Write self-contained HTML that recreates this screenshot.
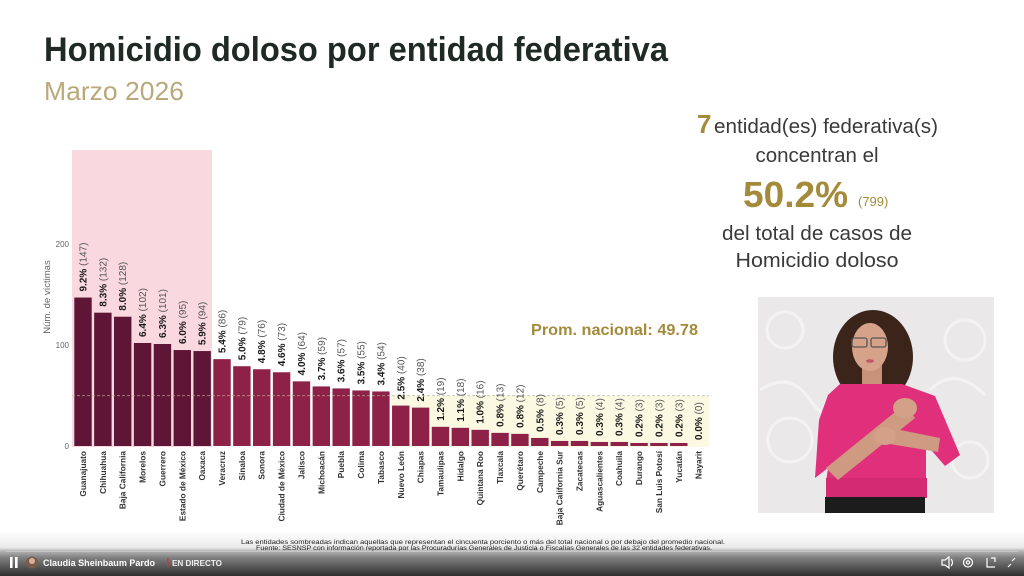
<!DOCTYPE html>
<html>
<head>
<meta charset="utf-8">
<style>
html,body{margin:0;padding:0;background:#fff;}
svg{display:block;}
</style>
</head>
<body>
<svg width="1024" height="576" viewBox="0 0 1024 576" xmlns="http://www.w3.org/2000/svg" font-family="'Liberation Sans', sans-serif">
<defs>
<linearGradient id="bb" x1="0" y1="530" x2="0" y2="576" gradientUnits="userSpaceOnUse">
<stop offset="0" stop-color="#000" stop-opacity="0"/>
<stop offset="0.38" stop-color="#000" stop-opacity="0.08"/>
<stop offset="0.46" stop-color="#000" stop-opacity="0.3"/>
<stop offset="0.6" stop-color="#000" stop-opacity="0.5"/>
<stop offset="1" stop-color="#000" stop-opacity="0.82"/>
</linearGradient>
</defs>
<rect width="1024" height="576" fill="#ffffff"/>

<!-- Title -->
<text x="44" y="61" font-size="34" font-weight="bold" fill="#1f2a24" textLength="624" lengthAdjust="spacingAndGlyphs">Homicidio doloso por entidad federativa</text>
<text x="44" y="100" font-size="26" fill="#b8a87a" textLength="140" lengthAdjust="spacingAndGlyphs">Marzo 2026</text>

<!-- Shaded regions -->
<rect x="72" y="150" width="140" height="297" fill="#f9d8df"/>
<rect x="391" y="395.7" width="318" height="51.3" fill="#fcf9e3"/>

<!-- Y axis -->
<g font-size="8" fill="#666" text-anchor="end">
<text x="69" y="247">200</text>
<text x="69" y="348">100</text>
<text x="69" y="449">0</text>
</g>
<text transform="translate(50,297) rotate(-90)" font-size="9.5" fill="#666" text-anchor="middle">Núm. de víctimas</text>

<!-- Bars -->
<g fill="#5e1536">
<rect x="74.30" y="297.53" width="17.4" height="148.47"/>
<rect x="94.16" y="312.68" width="17.4" height="133.32"/>
<rect x="114.02" y="316.72" width="17.4" height="129.28"/>
<rect x="133.88" y="342.98" width="17.4" height="103.02"/>
<rect x="153.74" y="343.99" width="17.4" height="102.01"/>
<rect x="173.60" y="350.05" width="17.4" height="95.95"/>
<rect x="193.46" y="351.06" width="17.4" height="94.94"/>
</g>
<g fill="#8d2148">
<rect x="213.32" y="359.14" width="17.4" height="86.86"/>
<rect x="233.18" y="366.21" width="17.4" height="79.79"/>
<rect x="253.04" y="369.24" width="17.4" height="76.76"/>
<rect x="272.90" y="372.27" width="17.4" height="73.73"/>
<rect x="292.76" y="381.36" width="17.4" height="64.64"/>
<rect x="312.62" y="386.41" width="17.4" height="59.59"/>
<rect x="332.48" y="388.43" width="17.4" height="57.57"/>
<rect x="352.34" y="390.45" width="17.4" height="55.55"/>
<rect x="372.20" y="391.46" width="17.4" height="54.54"/>
<rect x="392.06" y="405.60" width="17.4" height="40.40"/>
<rect x="411.92" y="407.62" width="17.4" height="38.38"/>
<rect x="431.78" y="426.81" width="17.4" height="19.19"/>
<rect x="451.64" y="427.82" width="17.4" height="18.18"/>
<rect x="471.50" y="429.84" width="17.4" height="16.16"/>
<rect x="491.36" y="432.87" width="17.4" height="13.13"/>
<rect x="511.22" y="433.88" width="17.4" height="12.12"/>
<rect x="531.08" y="437.92" width="17.4" height="8.08"/>
<rect x="550.94" y="440.95" width="17.4" height="5.05"/>
<rect x="570.80" y="440.95" width="17.4" height="5.05"/>
<rect x="590.66" y="441.96" width="17.4" height="4.04"/>
<rect x="610.52" y="441.96" width="17.4" height="4.04"/>
<rect x="630.38" y="442.97" width="17.4" height="3.03"/>
<rect x="650.24" y="442.97" width="17.4" height="3.03"/>
<rect x="670.10" y="442.97" width="17.4" height="3.03"/>
</g>

<!-- Average line -->
<line x1="72" y1="395.7" x2="709" y2="395.7" stroke="#b9b29a" stroke-width="0.9" stroke-dasharray="3,2" opacity="0.8"/>
<text x="531" y="335" font-size="16" font-weight="bold" fill="#a38b3b" textLength="167" lengthAdjust="spacingAndGlyphs">Prom. nacional: 49.78</text>

<!-- Value labels -->
<g font-size="10" font-weight="bold" fill="#1a1a1a">
<text transform="translate(86.5,291.5) rotate(-90)">9.2%<tspan font-weight="normal" fill="#555"> (147)</tspan></text>
<text transform="translate(106.4,306.7) rotate(-90)">8.3%<tspan font-weight="normal" fill="#555"> (132)</tspan></text>
<text transform="translate(126.2,310.7) rotate(-90)">8.0%<tspan font-weight="normal" fill="#555"> (128)</tspan></text>
<text transform="translate(146.1,337.0) rotate(-90)">6.4%<tspan font-weight="normal" fill="#555"> (102)</tspan></text>
<text transform="translate(165.9,338.0) rotate(-90)">6.3%<tspan font-weight="normal" fill="#555"> (101)</tspan></text>
<text transform="translate(185.8,344.0) rotate(-90)">6.0%<tspan font-weight="normal" fill="#555"> (95)</tspan></text>
<text transform="translate(205.7,345.1) rotate(-90)">5.9%<tspan font-weight="normal" fill="#555"> (94)</tspan></text>
<text transform="translate(225.5,353.1) rotate(-90)">5.4%<tspan font-weight="normal" fill="#555"> (86)</tspan></text>
<text transform="translate(245.4,360.2) rotate(-90)">5.0%<tspan font-weight="normal" fill="#555"> (79)</tspan></text>
<text transform="translate(265.2,363.2) rotate(-90)">4.8%<tspan font-weight="normal" fill="#555"> (76)</tspan></text>
<text transform="translate(285.1,366.3) rotate(-90)">4.6%<tspan font-weight="normal" fill="#555"> (73)</tspan></text>
<text transform="translate(305.0,375.4) rotate(-90)">4.0%<tspan font-weight="normal" fill="#555"> (64)</tspan></text>
<text transform="translate(324.8,380.4) rotate(-90)">3.7%<tspan font-weight="normal" fill="#555"> (59)</tspan></text>
<text transform="translate(344.7,382.4) rotate(-90)">3.6%<tspan font-weight="normal" fill="#555"> (57)</tspan></text>
<text transform="translate(364.5,384.5) rotate(-90)">3.5%<tspan font-weight="normal" fill="#555"> (55)</tspan></text>
<text transform="translate(384.4,385.5) rotate(-90)">3.4%<tspan font-weight="normal" fill="#555"> (54)</tspan></text>
<text transform="translate(404.3,399.6) rotate(-90)">2.5%<tspan font-weight="normal" fill="#555"> (40)</tspan></text>
<text transform="translate(424.1,401.6) rotate(-90)">2.4%<tspan font-weight="normal" fill="#555"> (38)</tspan></text>
<text transform="translate(444.0,420.8) rotate(-90)">1.2%<tspan font-weight="normal" fill="#555"> (19)</tspan></text>
<text transform="translate(463.8,421.8) rotate(-90)">1.1%<tspan font-weight="normal" fill="#555"> (18)</tspan></text>
<text transform="translate(483.7,423.8) rotate(-90)">1.0%<tspan font-weight="normal" fill="#555"> (16)</tspan></text>
<text transform="translate(503.6,426.9) rotate(-90)">0.8%<tspan font-weight="normal" fill="#555"> (13)</tspan></text>
<text transform="translate(523.4,427.9) rotate(-90)">0.8%<tspan font-weight="normal" fill="#555"> (12)</tspan></text>
<text transform="translate(543.3,431.9) rotate(-90)">0.5%<tspan font-weight="normal" fill="#555"> (8)</tspan></text>
<text transform="translate(563.1,435.0) rotate(-90)">0.3%<tspan font-weight="normal" fill="#555"> (5)</tspan></text>
<text transform="translate(583.0,435.0) rotate(-90)">0.3%<tspan font-weight="normal" fill="#555"> (5)</tspan></text>
<text transform="translate(602.9,436.0) rotate(-90)">0.3%<tspan font-weight="normal" fill="#555"> (4)</tspan></text>
<text transform="translate(622.7,436.0) rotate(-90)">0.3%<tspan font-weight="normal" fill="#555"> (4)</tspan></text>
<text transform="translate(642.6,437.0) rotate(-90)">0.2%<tspan font-weight="normal" fill="#555"> (3)</tspan></text>
<text transform="translate(662.4,437.0) rotate(-90)">0.2%<tspan font-weight="normal" fill="#555"> (3)</tspan></text>
<text transform="translate(682.3,437.0) rotate(-90)">0.2%<tspan font-weight="normal" fill="#555"> (3)</tspan></text>
<text transform="translate(702.2,440.0) rotate(-90)">0.0%<tspan font-weight="normal" fill="#555"> (0)</tspan></text>
</g>

<!-- Category labels -->
<g font-size="8.3" font-weight="bold" fill="#333" text-anchor="end">
<text transform="translate(86.0,451) rotate(-90)">Guanajuato</text>
<text transform="translate(105.9,451) rotate(-90)">Chihuahua</text>
<text transform="translate(125.7,451) rotate(-90)">Baja California</text>
<text transform="translate(145.6,451) rotate(-90)">Morelos</text>
<text transform="translate(165.4,451) rotate(-90)">Guerrero</text>
<text transform="translate(185.3,451) rotate(-90)">Estado de México</text>
<text transform="translate(205.2,451) rotate(-90)">Oaxaca</text>
<text transform="translate(225.0,451) rotate(-90)">Veracruz</text>
<text transform="translate(244.9,451) rotate(-90)">Sinaloa</text>
<text transform="translate(264.7,451) rotate(-90)">Sonora</text>
<text transform="translate(284.6,451) rotate(-90)">Ciudad de México</text>
<text transform="translate(304.5,451) rotate(-90)">Jalisco</text>
<text transform="translate(324.3,451) rotate(-90)">Michoacán</text>
<text transform="translate(344.2,451) rotate(-90)">Puebla</text>
<text transform="translate(364.0,451) rotate(-90)">Colima</text>
<text transform="translate(383.9,451) rotate(-90)">Tabasco</text>
<text transform="translate(403.8,451) rotate(-90)">Nuevo León</text>
<text transform="translate(423.6,451) rotate(-90)">Chiapas</text>
<text transform="translate(443.5,451) rotate(-90)">Tamaulipas</text>
<text transform="translate(463.3,451) rotate(-90)">Hidalgo</text>
<text transform="translate(483.2,451) rotate(-90)">Quintana Roo</text>
<text transform="translate(503.1,451) rotate(-90)">Tlaxcala</text>
<text transform="translate(522.9,451) rotate(-90)">Querétaro</text>
<text transform="translate(542.8,451) rotate(-90)">Campeche</text>
<text transform="translate(562.6,451) rotate(-90)">Baja California Sur</text>
<text transform="translate(582.5,451) rotate(-90)">Zacatecas</text>
<text transform="translate(602.4,451) rotate(-90)">Aguascalientes</text>
<text transform="translate(622.2,451) rotate(-90)">Coahuila</text>
<text transform="translate(642.1,451) rotate(-90)">Durango</text>
<text transform="translate(661.9,451) rotate(-90)">San Luis Potosí</text>
<text transform="translate(681.8,451) rotate(-90)">Yucatán</text>
<text transform="translate(701.7,451) rotate(-90)">Nayarit</text>
</g>

<!-- Right summary text -->
<text x="697" y="133" font-size="26" font-weight="bold" fill="#a38b3b">7</text>
<text x="714" y="133" font-size="20.5" fill="#3a3a3a" textLength="224" lengthAdjust="spacingAndGlyphs">entidad(es) federativa(s)</text>
<text x="817" y="162" font-size="20.5" fill="#3a3a3a" text-anchor="middle">concentran el</text>
<text x="743" y="207" font-size="36" font-weight="bold" fill="#a38b3b" textLength="105" lengthAdjust="spacingAndGlyphs">50.2%</text>
<text x="858" y="206" font-size="13" fill="#a38b3b">(799)</text>
<text x="817" y="240" font-size="20.5" fill="#3a3a3a" text-anchor="middle" textLength="190" lengthAdjust="spacingAndGlyphs">del total de casos de</text>
<text x="817" y="267" font-size="20.5" fill="#3a3a3a" text-anchor="middle" textLength="163" lengthAdjust="spacingAndGlyphs">Homicidio doloso</text>

<!-- Video inset -->
<rect x="758" y="297" width="236" height="216" fill="#eae8e9"/>
<g fill="none" stroke="#f6f5f5" stroke-width="3" opacity="0.9">
<circle cx="785" cy="330" r="18"/>
<circle cx="965" cy="340" r="20"/>
<circle cx="790" cy="440" r="22"/>
<circle cx="970" cy="460" r="18"/>
<path d="M760 390 q30 -20 50 10 t40 0"/>
<path d="M930 390 q25 -25 55 5"/>
</g>
<!-- hair -->
<ellipse cx="873" cy="357" rx="40" ry="47" fill="#3b251b"/>
<!-- neck -->
<rect x="862" y="365" width="20" height="25" fill="#c8917a"/>
<!-- face -->
<ellipse cx="870" cy="347" rx="18" ry="24" fill="#d6a38a"/>
<rect x="852" y="338" width="15" height="9" rx="2" fill="none" stroke="#555" stroke-width="1.3"/>
<rect x="871" y="338" width="15" height="9" rx="2" fill="none" stroke="#555" stroke-width="1.3"/>
<ellipse cx="870" cy="361" rx="4" ry="1.8" fill="#c2566f"/>
<!-- shirt -->
<path d="M840 384 L902 384 L935 396 L960 455 L945 466 L926 444 L926 482 L826 482 L828 468 L815 478 L819 420 L828 395 Z" fill="#e0307c"/>
<rect x="826" y="478" width="101" height="20" fill="#d42a72"/>
<!-- pants -->
<rect x="825" y="497" width="100" height="16" fill="#1c1c1c"/>
<!-- arms -->
<path d="M826 468 L905 404 L915 418 L838 480 Z" fill="#cf9a82"/>
<ellipse cx="905" cy="408" rx="12" ry="10" fill="#d3a088"/>
<path d="M880 426 L940 438 L938 452 L878 442 Z" fill="#cf9a82"/>
<ellipse cx="885" cy="436" rx="11" ry="9" fill="#d3a088"/>

<!-- Player bar gradient -->
<rect x="0" y="530" width="1024" height="46" fill="url(#bb)"/>

<!-- Footnote -->
<g font-size="6.5" fill="#222">
<text x="241" y="544" textLength="484" lengthAdjust="spacingAndGlyphs">Las entidades sombreadas indican aquellas que representan el cincuenta porciento o más del total nacional o por debajo del promedio nacional.</text>
<text x="256" y="550" textLength="456" lengthAdjust="spacingAndGlyphs">Fuente: SESNSP con información reportada por las Procuradurías Generales de Justicia o Fiscalías Generales de las 32 entidades federativas.</text>
</g>

<rect x="6" y="551" width="1012" height="1" fill="#cfcfcf" opacity="0.7"/>
<rect x="10" y="557" width="2.6" height="11" fill="#fff"/>
<rect x="15" y="557" width="2.6" height="11" fill="#fff"/>
<circle cx="32" cy="562.5" r="6" fill="#7a5a48"/>
<circle cx="32" cy="561" r="3" fill="#d6b0a0"/>
<text x="43" y="566" font-size="9" font-weight="bold" fill="#fff" textLength="112" lengthAdjust="spacingAndGlyphs">Claudia Sheinbaum Pardo</text>
<rect x="167" y="558" width="1.5" height="9" fill="#e03030"/>
<text x="172" y="566" font-size="8.5" font-weight="bold" fill="#eee" textLength="50" lengthAdjust="spacingAndGlyphs">EN DIRECTO</text>
<g fill="none" stroke="#fff" stroke-width="1.2">
<path d="M942 560 h3 l4 -3 v11 l-4 -3 h-3 z"/>
<path d="M951 559 q3 3.5 0 7"/>
<circle cx="968" cy="562.5" r="4.5"/>
<circle cx="968" cy="562.5" r="1.6"/>
<path d="M987 558 v9 h8"/>
<path d="M991 558 h4 v4"/>
<path d="M1008 567 l3 -3 M1015 558 l-3 3"/>
</g>
</svg>
</body>
</html>
